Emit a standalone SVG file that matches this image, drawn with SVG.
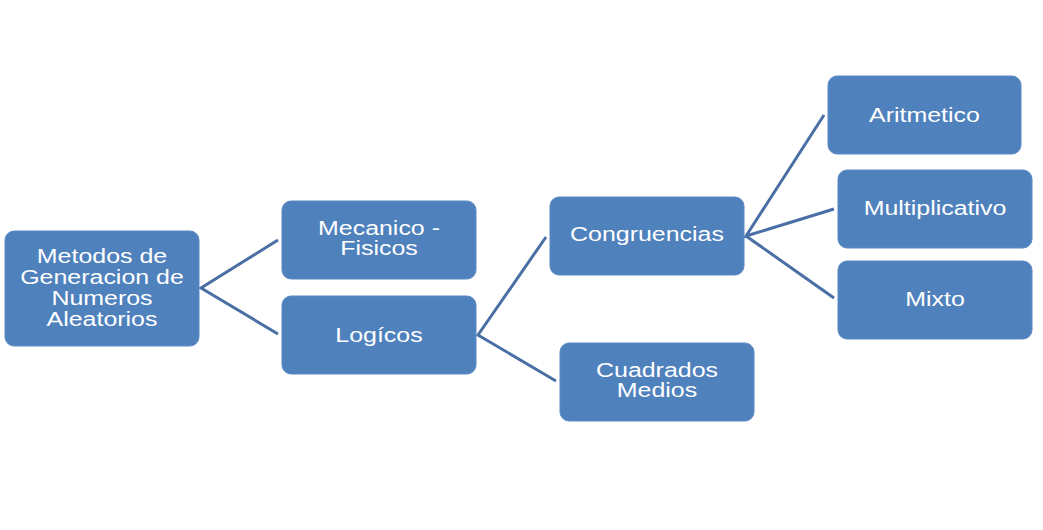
<svg xmlns="http://www.w3.org/2000/svg" width="1043" height="530" viewBox="0 0 1043 530">
<style>
.box{fill:#4F81BD;stroke:#5B8AC4;stroke-width:1}
.t{font-family:"Liberation Sans",Arial,sans-serif;font-size:19.5px;fill:#FFFFFF;text-anchor:middle}
.c{fill:none;stroke:#4A6FA5;stroke-width:3;stroke-linejoin:miter}
</style>
<rect width="1043" height="530" fill="#FFFFFF"/>
<g id="connectors">
<polyline class="c" points="278,240 201,288 278,334"/>
<polyline class="c" points="546,237 478,335 556,381"/>
<polyline class="c" points="824,115 746,236 834,209"/>
<polyline class="c" points="746,236 834,298"/>
</g>
<g id="root">
<rect class="box" x="5" y="231" width="194" height="115" rx="9"/>
<g transform="translate(102,0) scale(1.28,1)">
<text class="t" x="0" y="263">Metodos de</text>
<text class="t" x="0" y="284">Generacion de</text>
<text class="t" x="0" y="305">Numeros</text>
<text class="t" x="0" y="326">Aleatorios</text>
</g>
</g>
<g id="mecanico">
<rect class="box" x="282" y="201" width="194" height="78" rx="9"/>
<g transform="translate(379,0) scale(1.28,1)">
<text class="t" x="0" y="235">Mecanico -</text>
<text class="t" x="0" y="255">Fisicos</text>
</g>
</g>
<g id="logicos">
<rect class="box" x="282" y="296" width="194" height="78" rx="9"/>
<text class="t" transform="translate(379,342) scale(1.28,1)">Logícos</text>
</g>
<g id="congruencias">
<rect class="box" x="550" y="197" width="194" height="78" rx="9"/>
<text class="t" transform="translate(647,241) scale(1.28,1)">Congruencias</text>
</g>
<g id="cuadrados">
<rect class="box" x="560" y="343" width="194" height="78" rx="9"/>
<g transform="translate(657,0) scale(1.28,1)">
<text class="t" x="0" y="377">Cuadrados</text>
<text class="t" x="0" y="397">Medios</text>
</g>
</g>
<g id="aritmetico">
<rect class="box" x="828" y="76" width="193" height="78" rx="9"/>
<text class="t" transform="translate(924.5,122) scale(1.28,1)">Aritmetico</text>
</g>
<g id="multiplicativo">
<rect class="box" x="838" y="170" width="194" height="78" rx="9"/>
<text class="t" transform="translate(935,215) scale(1.28,1)">Multiplicativo</text>
</g>
<g id="mixto">
<rect class="box" x="838" y="261" width="194" height="78" rx="9"/>
<text class="t" transform="translate(935,306) scale(1.28,1)">Mixto</text>
</g>
</svg>
